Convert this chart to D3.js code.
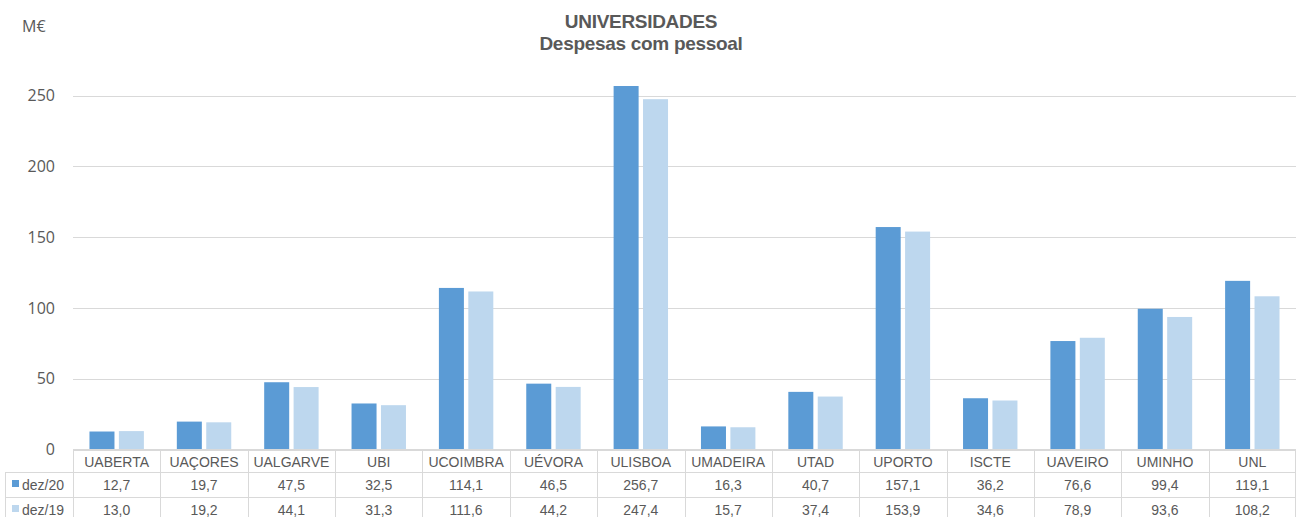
<!DOCTYPE html>
<html><head><meta charset="utf-8">
<script src="https://cdn.jsdelivr.net/npm/d3@7"></script>
<style>
html,body{margin:0;padding:0;background:#fff;}
svg{display:block;}
</style></head>
<body>
<svg id="chart" width="1296" height="517"></svg>
<script>
const categories = ["UABERTA","UAÇORES","UALGARVE","UBI","UCOIMBRA","UÉVORA","ULISBOA","UMADEIRA","UTAD","UPORTO","ISCTE","UAVEIRO","UMINHO","UNL"];
const seriesNames = ["dez/20","dez/19"];
const dez20 = [12.7,19.7,47.5,32.5,114.1,46.5,256.7,16.3,40.7,157.1,36.2,76.6,99.4,119.1];
const dez19 = [13.0,19.2,44.1,31.3,111.6,44.2,247.4,15.7,37.4,153.9,34.6,78.9,93.6,108.2];
const yTicks = [0,50,100,150,200,250];
const colors = ["#5B9BD5","#BDD7EE"];
const titleLines = ["UNIVERSIDADES","Despesas com pessoal"];
const unitLabel = "M€";

const series = [dez20, dez19];
const svg = d3.select("#chart");
const plotLeft = 73, plotRight = 1296, plotTop = 95.5, plotBottom = 449.5;
const textCol = "#595959", gridCol = "#d9d9d9";

const x = d3.scaleBand().domain(categories).range([plotLeft, plotRight]).padding(0);
const x1 = d3.scaleBand().domain(seriesNames).range([0, x.bandwidth()]).paddingInner(0.15).paddingOuter(0.56);
const y = d3.scaleLinear().domain([0,250]).range([plotBottom, plotTop]);

// gridlines
svg.append("g").selectAll("line").data(yTicks).join("line")
  .attr("x1", plotLeft).attr("x2", plotRight)
  .attr("y1", d=>Math.round(y(d))+0.5).attr("y2", d=>Math.round(y(d))+0.5)
  .attr("stroke", gridCol).attr("stroke-width",1);

// y axis labels
const yAxis = d3.axisLeft(y).tickValues(yTicks).tickSize(0).tickPadding(18).tickFormat(d3.format("d"));
const ga = svg.append("g").attr("transform",`translate(${plotLeft},0)`).call(yAxis);
ga.select(".domain").remove();
ga.selectAll("text").attr("fill",textCol).style("font-family","'Open Sans', sans-serif").style("font-size","16px");

// bars
const groups = svg.append("g").selectAll("g").data(categories).join("g")
  .attr("transform", d=>`translate(${x(d)},0)`);
groups.selectAll("rect").data((d,i)=>seriesNames.map((s,j)=>({s, v: series[j][i], j})))
  .join("rect")
  .attr("x", d=>x1(d.s)).attr("width", x1.bandwidth())
  .attr("y", d=>y(d.v)).attr("height", d=>y(0)-y(d.v))
  .attr("fill", d=>colors[d.j]);

// title
svg.append("g").selectAll("text").data(titleLines).join("text")
  .attr("x", 641).attr("y", (d,i)=>28+i*22)
  .attr("text-anchor","middle").attr("fill",textCol)
  .style("font-family","'Liberation Sans', Arial, sans-serif").style("font-weight","bold").style("font-size","19px")
  .style("letter-spacing","-0.3px")
  .text(d=>d);

// unit
svg.append("text").attr("x",22).attr("y",32).attr("fill",textCol)
  .style("font-family","'Open Sans', sans-serif").style("font-size","16px").text(unitLabel);

// data table
const rowY = [449.5, 472.5, 497.5, 522.5];
const tbl = svg.append("g");
const font = "'Liberation Sans', Arial, sans-serif";
tbl.append("line").attr("x1",plotLeft).attr("x2",plotRight).attr("y1",rowY[0]).attr("y2",rowY[0]).attr("stroke",gridCol);
[rowY[1],rowY[2],rowY[3]].forEach(yy=>{
  tbl.append("line").attr("x1",5).attr("x2",plotRight).attr("y1",yy).attr("y2",yy).attr("stroke",gridCol);
});
categories.forEach(c=>{
  const xx = Math.round(x(c))+0.5;
  tbl.append("line").attr("x1",xx).attr("x2",xx).attr("y1",rowY[0]).attr("y2",rowY[3]).attr("stroke",gridCol);
});
tbl.append("line").attr("x1",plotRight-0.5).attr("x2",plotRight-0.5).attr("y1",rowY[0]).attr("y2",rowY[3]).attr("stroke",gridCol);
tbl.append("line").attr("x1",5.5).attr("x2",5.5).attr("y1",rowY[1]).attr("y2",rowY[3]).attr("stroke",gridCol);

tbl.selectAll("text.h").data(categories).join("text").attr("class","h")
  .attr("x", d=>x(d)+x.bandwidth()/2).attr("y", 467)
  .attr("text-anchor","middle").attr("fill",textCol)
  .style("font-family",font).style("font-size","14px").text(d=>d);

const fmt = v => v.toFixed(1).replace(".",",");
series.forEach((arr,j)=>{
  const cy = (rowY[j+1]+rowY[j+2])/2 + 5;
  tbl.append("g").selectAll("text").data(arr).join("text")
    .attr("x",(d,i)=>x(categories[i])+x.bandwidth()/2).attr("y",cy)
    .attr("text-anchor","middle").attr("fill",textCol)
    .style("font-family",font).style("font-size","14px").text(d=>fmt(d));
  tbl.append("rect").attr("x",12).attr("y",cy-10).attr("width",7).attr("height",7).attr("fill",colors[j]);
  tbl.append("text").attr("x",22).attr("y",cy).attr("fill",textCol)
    .style("font-family",font).style("font-size","14px").text(seriesNames[j]);
});
</script>
</body></html>
